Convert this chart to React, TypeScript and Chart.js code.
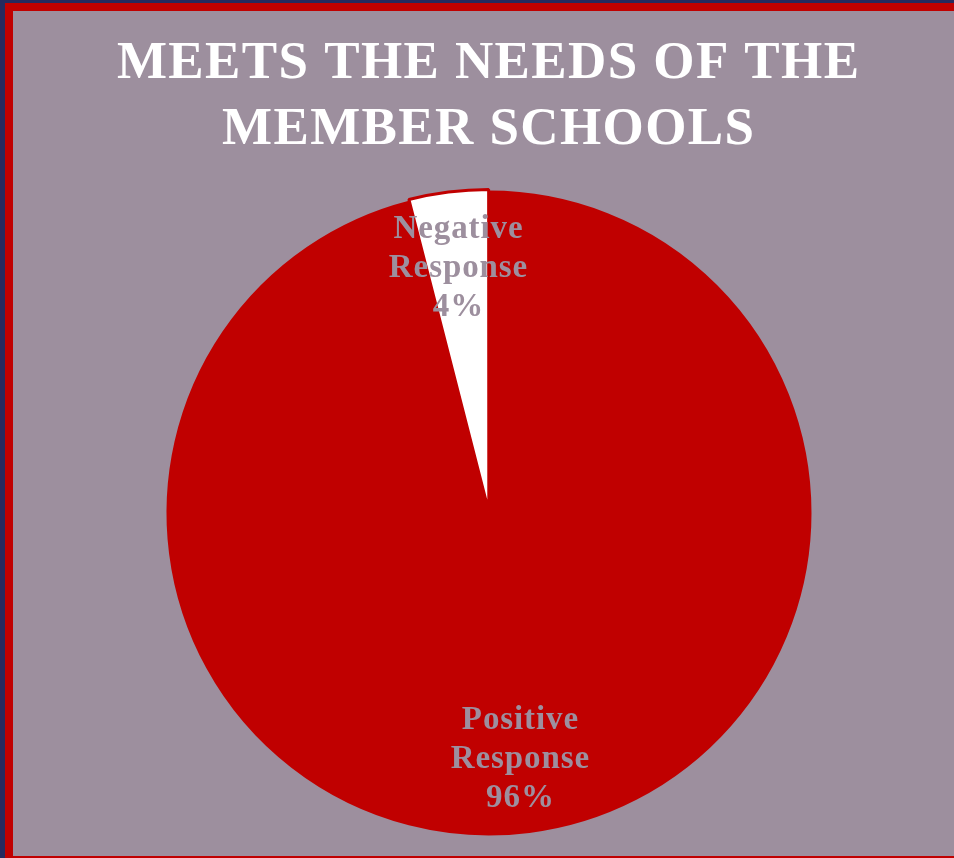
import React, { useEffect, useRef } from 'react';
import { Chart, registerables } from 'chart.js';

Chart.register(...registerables);

const TITLE_LINES = ['MEETS THE NEEDS OF THE', 'MEMBER SCHOOLS'];
const CATEGORIES = ['Positive Response', 'Negative Response'];
const VALUES = [96, 4];
const SLICE_COLORS = ['#C00000', '#FFFFFF'];
const SLICE_OFFSETS = [0, 6];

const BG_GRAY = '#9D8F9E';
const RED = '#C00000';
const NAVY = '#262A5E';
const SERIF = '"Liberation Serif", "DejaVu Serif", serif';

const titlePlugin = {
  id: 'customTitle',
  afterDraw(chart: any) {
    const ctx = chart.ctx;
    ctx.save();
    ctx.fillStyle = '#FFFFFF';
    ctx.font = `bold 53px ${SERIF}`;
    ctx.textAlign = 'center';
    ctx.textBaseline = 'alphabetic';
    const spacing = 1.4;
    (ctx as any).letterSpacing = `${spacing}px`;
    const baselines = [78, 144];
    TITLE_LINES.forEach((line, i) => {
      ctx.fillText(line, 488 + spacing / 2, baselines[i]);
    });
    ctx.restore();
  },
};

const labelPlugin = {
  id: 'sliceLabels',
  afterDatasetsDraw(chart: any) {
    const ctx = chart.ctx;
    const meta = chart.getDatasetMeta(0);
    const total = VALUES.reduce((a, b) => a + b, 0);
    ctx.save();
    ctx.fillStyle = BG_GRAY;
    ctx.font = `bold 33px ${SERIF}`;
    ctx.textAlign = 'center';
    ctx.textBaseline = 'middle';
    const spacing = 0.9;
    (ctx as any).letterSpacing = `${spacing}px`;
    meta.data.forEach((arc: any, i: number) => {
      const { x, y, startAngle, endAngle, outerRadius } = arc.getProps(
        ['x', 'y', 'startAngle', 'endAngle', 'outerRadius'],
        true
      );
      const mid = (startAngle + endAngle) / 2;
      const r = outerRadius * 0.77;
      const px = x + Math.cos(mid) * r;
      const py = y + Math.sin(mid) * r;
      const pct = Math.round((VALUES[i] / total) * 100) + '%';
      const lines = [...CATEGORIES[i].split(' '), pct];
      const lh = 39;
      lines.forEach((ln, k) => {
        ctx.fillText(ln, px + spacing / 2, py + (k - (lines.length - 1) / 2) * lh + 1);
      });
    });
    ctx.restore();
  },
};

export default function App() {
  const canvasRef = useRef<HTMLCanvasElement | null>(null);

  useEffect(() => {
    if (!canvasRef.current) return;
    const chart = new Chart(canvasRef.current, {
      type: 'pie',
      data: {
        labels: CATEGORIES,
        datasets: [
          {
            data: VALUES,
            backgroundColor: SLICE_COLORS,
            borderColor: [RED, RED],
            borderWidth: 3,
            offset: SLICE_OFFSETS,
            hoverOffset: 0,
            hoverBorderWidth: 3,
          } as any,
        ],
      },
      options: {
        responsive: false,
        animation: false,
        devicePixelRatio: 1,
        events: [],
        layout: {
          padding: { left: 163.5, right: 139.5, top: 187.5, bottom: 19.5 },
        },
        plugins: {
          legend: { display: false },
          tooltip: { enabled: false },
          title: { display: false },
        },
      } as any,
      plugins: [labelPlugin, titlePlugin],
    });
    return () => chart.destroy();
  }, []);

  return (
    <div
      style={{
        position: 'fixed',
        left: 0,
        top: 0,
        width: 954,
        height: 858,
        overflow: 'hidden',
        background: NAVY,
      }}
    >
      <div
        style={{
          position: 'absolute',
          left: 5,
          top: 3,
          width: 1100,
          height: 845,
          border: `8px solid ${RED}`,
          background: BG_GRAY,
        }}
      />
      <canvas
        ref={canvasRef}
        width={954}
        height={858}
        style={{ position: 'absolute', left: 0, top: 0, width: 954, height: 858 }}
      />
    </div>
  );
}
